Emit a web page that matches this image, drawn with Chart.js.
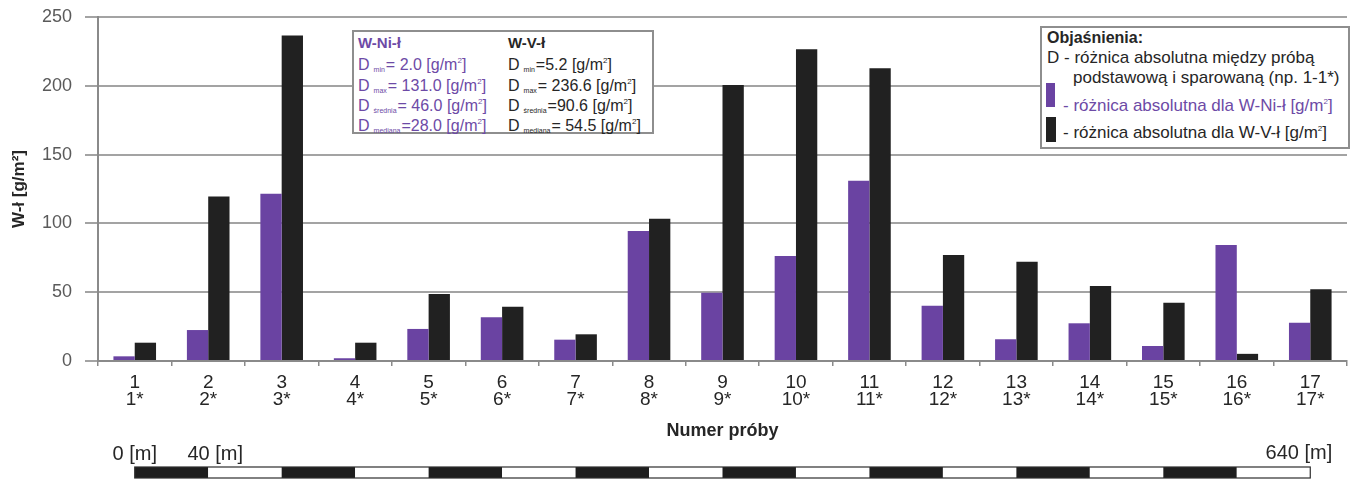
<!DOCTYPE html>
<html>
<head>
<meta charset="utf-8">
<script src="https://cdn.jsdelivr.net/npm/chart.js@4.4.1/dist/chart.umd.min.js"></script>
<style>
html,body{margin:0;padding:0;background:#fff;}
#wrap{position:relative;width:1359px;height:479px;overflow:hidden;font-family:"Liberation Sans",Arial,sans-serif;}
#c{position:absolute;left:0;top:0;}
.box{position:absolute;background:#fff;border:2px solid #8e8e8e;box-sizing:border-box;}
.t{position:absolute;white-space:nowrap;line-height:1;}
.sub{font-size:7px;position:relative;top:2px;margin:0 1px 0 4px;}
.sup{font-size:8px;position:relative;top:-7px;}
.sw{position:absolute;}
</style>
</head>
<body>
<div id="wrap"><canvas id="c" width="1359" height="479"></canvas></div>
<script>
// ---- data ----
const categories = ['1','2','3','4','5','6','7','8','9','10','11','12','13','14','15','16','17'];
const pairedLabels = ['1*','2*','3*','4*','5*','6*','7*','8*','9*','10*','11*','12*','13*','14*','15*','16*','17*'];
const niValues = [3.4, 22.5, 121.5, 2.0, 23.3, 31.8, 15.5, 94.5, 49.6, 76.3, 131.0, 40.2, 15.8, 27.4, 10.9, 84.3, 27.8];
const vValues  = [13.3, 119.6, 236.6, 13.3, 48.7, 39.5, 19.4, 103.3, 200.5, 226.5, 212.7, 77.0, 72.2, 54.5, 42.4, 5.2, 52.1];
const yTickMin = 0, yTickMax = 250, yTickStep = 50;
const seriesNames = ['W-Ni-ł', 'W-V-ł'];
const statNames = ['min', 'max', 'średnia', 'mediana'];
const niStats = [2.0, 131.0, 46.0, 28.0];
const vStats  = [5.2, 236.6, 90.6, 54.5];
const niSep = ['= ', '= ', '= ', '='];
const vSep  = ['=', '= ', '=', '= '];
const segmentMeters = 40;
const scaleLabelSegments = [0, 1, 16];
const xTitle = 'Numer próby';
const yTitle = 'W-ł [g/m²]';
const legendTitle = 'Objaśnienia:';
const legendLines = ['D - różnica absolutna między próbą', 'podstawową i sparowaną (np. 1-1*)'];
const legendSeries = ['- różnica absolutna dla W-Ni-ł [g/m', '- różnica absolutna dla W-V-ł [g/m'];

// ---- style ----
const FONT = '"Liberation Sans", Arial, sans-serif';
const PURPLE = '#6a43a2';
const PURPLE_TXT = '#6d4aa6';
const BLACK = '#212121';
const TXT = '#262626';

const scaleBarPlugin = {
  id: 'scaleBar',
  afterDraw(chart) {
    const xs = chart.scales.x, ctx = chart.ctx;
    const top = 467, h = 11;
    const nSeg = categories.length - 1;
    ctx.save();
    for (let i = 0; i < nSeg; i++) {
      const a = xs.getPixelForValue(i), b = xs.getPixelForValue(i + 1);
      ctx.fillStyle = (i % 2 === 0) ? '#1e1e1e' : '#ffffff';
      ctx.fillRect(a, top, b - a, h);
    }
    const s = xs.getPixelForValue(0), e = xs.getPixelForValue(nSeg);
    ctx.strokeStyle = '#2e2e2e';
    ctx.lineWidth = 1.2;
    ctx.strokeRect(s, top, e - s, h);
    ctx.fillStyle = TXT;
    ctx.font = '20px ' + FONT;
    ctx.textBaseline = 'alphabetic';
    scaleLabelSegments.forEach((seg, k) => {
      const txt = (seg * segmentMeters) + ' [m]';
      const px = xs.getPixelForValue(seg);
      if (k === scaleLabelSegments.length - 1) {
        ctx.textAlign = 'right';
        ctx.fillText(txt, px + 22, 459);
      } else {
        ctx.textAlign = 'center';
        ctx.fillText(txt, px + (k === 0 ? 0 : 7), 460);
      }
    });
    ctx.restore();
  }
};

new Chart(document.getElementById('c'), {
  type: 'bar',
  data: {
    labels: categories.map((c, i) => [c, pairedLabels[i]]),
    datasets: [
      { label: seriesNames[0], data: niValues, backgroundColor: PURPLE, categoryPercentage: 0.58, barPercentage: 1.0 },
      { label: seriesNames[1], data: vValues, backgroundColor: BLACK, categoryPercentage: 0.58, barPercentage: 1.0 }
    ]
  },
  options: {
    responsive: false,
    animation: false,
    devicePixelRatio: 1,
    layout: { padding: { left: 0, right: 12, top: 17, bottom: 0 } },
    plugins: { legend: { display: false }, tooltip: { enabled: false } },
    scales: {
      x: {
        grid: { display: true, drawOnChartArea: false, drawTicks: true, tickLength: 5, color: '#8a8a8a', lineWidth: 1.5 },
        border: { display: true, color: '#8a8a8a', width: 2 },
        ticks: { color: TXT, font: { family: FONT, size: 19, lineHeight: 0.9 }, padding: 8, maxRotation: 0, autoSkip: false },
        title: { display: true, text: xTitle, color: TXT, font: { family: FONT, size: 18, weight: 'bold' }, padding: { top: 0, bottom: 37 } },
        afterFit(s) { s.height = 118; s.paddingLeft = 0; s.paddingRight = 0; }
      },
      y: {
        min: yTickMin, max: yTickMax,
        ticks: { stepSize: yTickStep, color: '#5a5a5a', font: { family: FONT, size: 18 }, padding: 13 },
        grid: { color: '#a3a3a3', lineWidth: 2, tickLength: 13 },
        border: { display: true, color: '#8a8a8a', width: 2 },
        title: { display: true, text: yTitle, color: TXT, font: { family: FONT, size: 17, weight: 'bold' }, padding: { top: 9, bottom: 0 } },
        afterFit(s) { s.width = 98; s.paddingTop = 0; s.paddingBottom = 0; }
      }
    }
  },
  plugins: [scaleBarPlugin]
});

// ---- annotation boxes (HTML text) ----
const wrap = document.getElementById('wrap');
function addBox(l, t, w, h) {
  const d = document.createElement('div'); d.className = 'box';
  d.style.left = l + 'px'; d.style.top = t + 'px'; d.style.width = w + 'px'; d.style.height = h + 'px';
  wrap.appendChild(d);
}
function addText(html, left, baseline, size, color, bold) {
  const d = document.createElement('div'); d.className = 't'; d.innerHTML = html;
  d.style.left = left + 'px'; d.style.top = (baseline - 0.8465 * size) + 'px';
  d.style.fontSize = size + 'px'; d.style.color = color;
  if (bold) d.style.fontWeight = 'bold';
  wrap.appendChild(d);
}
function addSwatch(l, t, w, h, c) {
  const d = document.createElement('div'); d.className = 'sw';
  d.style.left = l + 'px'; d.style.top = t + 'px'; d.style.width = w + 'px'; d.style.height = h + 'px'; d.style.background = c;
  wrap.appendChild(d);
}
const sup2 = '<span class="sup">2</span>';

// stats box
addBox(352, 30, 302, 104);
addText(seriesNames[0], 358, 47.5, 15, PURPLE_TXT, true);
addText(seriesNames[1], 508, 47.5, 15, TXT, true);
const rowBase = [71, 91.5, 112, 131.5];
statNames.forEach((n, i) => {
  addText('D<span class="sub">' + n + '</span>' + niSep[i] + niStats[i].toFixed(1) + ' [g/m' + sup2 + ']', 358, rowBase[i], 16, PURPLE_TXT, false);
  addText('D<span class="sub">' + n + '</span>' + vSep[i] + vStats[i].toFixed(1) + ' [g/m' + sup2 + ']', 508, rowBase[i], 16, TXT, false);
});

// legend box
addBox(1040, 26, 310, 123);
addText(legendTitle, 1047, 43.3, 16, TXT, true);
addText(legendLines[0], 1047, 63.3, 17, TXT, false);
addText(legendLines[1], 1073, 83.3, 17, TXT, false);
addSwatch(1046, 83, 9, 24, PURPLE);
addText(legendSeries[0] + sup2 + ']', 1063, 111, 17, PURPLE_TXT, false);
addSwatch(1046, 117, 10, 25, BLACK);
addText(legendSeries[1] + sup2 + ']', 1063, 138.3, 17, TXT, false);
</script>
</body>
</html>
